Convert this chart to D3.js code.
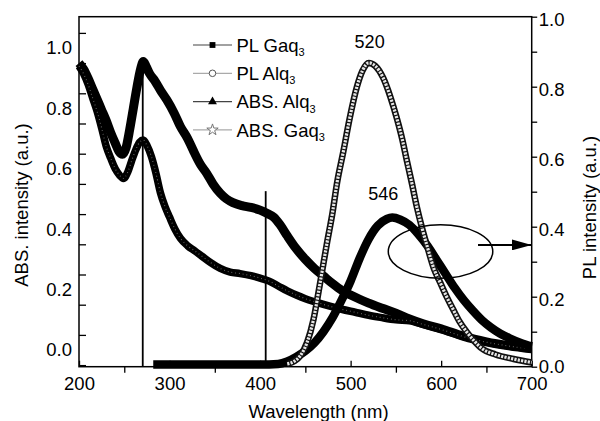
<!DOCTYPE html>
<html>
<head>
<meta charset="utf-8">
<script src="https://cdn.jsdelivr.net/npm/d3@7"></script>
<style>
  html, body { margin: 0; padding: 0; background: #fff; }
  svg { display: block; }
</style>
</head>
<body>
<div id="chart"></div>
<script>
// ABS / PL spectra of Alq3 and Gaq3 — D3
// Absorption is read on the left axis, photoluminescence on the right one.

// [wavelength (nm), ABS intensity (a.u.)]
const absAlq3 = [
  [200, 0.95], [205, 0.93], [210, 0.90], [215, 0.865], [220, 0.83], [225, 0.795],
  [230, 0.76], [235, 0.72], [240, 0.685], [244, 0.658], [248, 0.648], [252, 0.67],
  [256, 0.73], [260, 0.80], [264, 0.87], [268, 0.93], [271, 0.955], [274, 0.94],
  [278, 0.915], [284, 0.89], [290, 0.86], [297, 0.828], [305, 0.785], [312, 0.74],
  [320, 0.70], [326, 0.662], [334, 0.615], [341, 0.585], [348, 0.55], [356, 0.519],
  [363, 0.50], [370, 0.488], [380, 0.478], [390, 0.472], [400, 0.463], [408, 0.452],
  [415, 0.44], [422, 0.415], [430, 0.378], [440, 0.335], [450, 0.30], [460, 0.27],
  [470, 0.245], [480, 0.22], [490, 0.198], [500, 0.182], [510, 0.168], [520, 0.155],
  [535, 0.138], [550, 0.122], [565, 0.103], [580, 0.087], [600, 0.07], [625, 0.045],
  [650, 0.027], [675, 0.014], [700, 0.004]
];
const absGaq3 = [
  [200, 0.94], [205, 0.915], [210, 0.88], [215, 0.835], [220, 0.79], [225, 0.735],
  [230, 0.675], [235, 0.635], [240, 0.60], [245, 0.578], [249, 0.568], [254, 0.59],
  [258, 0.625], [263, 0.665], [267, 0.688], [271, 0.695], [275, 0.678], [280, 0.64],
  [285, 0.585], [290, 0.52], [295, 0.475], [300, 0.44], [306, 0.40], [312, 0.37],
  [320, 0.345], [328, 0.328], [336, 0.31], [345, 0.29], [356, 0.27], [367, 0.258],
  [378, 0.253], [390, 0.246], [400, 0.238], [410, 0.228], [420, 0.212], [430, 0.196],
  [440, 0.182], [450, 0.17], [460, 0.16], [477, 0.145], [490, 0.135], [505, 0.125],
  [520, 0.115], [533, 0.108], [550, 0.10], [565, 0.097], [580, 0.085], [600, 0.068],
  [625, 0.044], [650, 0.026], [675, 0.013], [700, 0.003]
];

// [wavelength (nm), PL intensity (a.u.)]
const plGaq3 = [
  [282, 0.006], [320, 0.006], [360, 0.006], [400, 0.006], [420, 0.008], [430, 0.015],
  [440, 0.028], [450, 0.045], [460, 0.068], [470, 0.10], [480, 0.14], [490, 0.19],
  [500, 0.245], [510, 0.31], [520, 0.365], [530, 0.403], [540, 0.422], [546, 0.426],
  [555, 0.42], [565, 0.405], [575, 0.378], [585, 0.345], [595, 0.305], [605, 0.265],
  [615, 0.225], [625, 0.19], [635, 0.16], [645, 0.133], [655, 0.112], [665, 0.095],
  [675, 0.082], [688, 0.068], [700, 0.058]
];
const plAlq3 = [
  [430, 0.008], [438, 0.016], [444, 0.03], [452, 0.07], [459, 0.135], [466, 0.235],
  [474, 0.355], [480, 0.44], [485, 0.525], [492, 0.615], [499, 0.71], [507, 0.80],
  [513, 0.845], [520, 0.868], [527, 0.86], [536, 0.825], [544, 0.77], [551, 0.71],
  [557, 0.65], [562, 0.59], [568, 0.52], [573, 0.458], [579, 0.395], [585, 0.34],
  [592, 0.28], [599, 0.24], [606, 0.2], [613, 0.165], [620, 0.13], [628, 0.1],
  [636, 0.075], [645, 0.052], [660, 0.035], [680, 0.022], [700, 0.012]
];

// Axis ticks
const xTicksMajor = [200, 300, 400, 500, 600, 700];
const xTicksMinor = [250, 350, 450, 550, 650];
const absTickLabels = [0, 0.2, 0.4, 0.6, 0.8, 1.0];
const absTickMarks = [-0.05, 0.05, 0.15, 0.25, 0.35, 0.45, 0.55, 0.65, 0.75, 0.85, 0.95, 1.05];
const plTickLabels = [0, 0.2, 0.4, 0.6, 0.8, 1.0];
const plTickMarks = [0, 0.1, 0.2, 0.3, 0.4, 0.5, 0.6, 0.7, 0.8, 0.9, 1.0];

// Annotations, in data units
const peakLabels = [{ text: '520', nm: 521, pl: 0.91 }, { text: '546', nm: 536, pl: 0.476 }];
const guideLines = [{ nm: 270.4, abs: 0.967 }, { nm: 406.2, abs: 0.526 }];
const ellipseNote = { nm: 599.3, pl: 0.329, rxNm: 57.7, ryPl: 0.0763 };
const arrowNote = { nm0: 640.7, nm1: 700, pl: 0.348 };

const legendNames = [['PL Gaq', '3'], ['PL Alq', '3'], ['ABS. Alq', '3'], ['ABS. Gaq', '3']];

const W = 600, H = 421;
const FONT = "'Liberation Sans', Arial, Helvetica, sans-serif";
const FS = 18.5;

const x = d3.scaleLinear().domain([200, 700]).range([79, 531.7]);
const yAbs = d3.scaleLinear().domain([0, 1]).range([350, 48]);
const yPl = d3.scaleLinear().domain([0, 1]).range([366.7, 16.7]);

const plotL = x(200), plotR = x(700), plotT = yPl(1), plotB = yPl(0);

const svg = d3.select('#chart')
  .append('svg')
  .attr('width', W)
  .attr('height', H)
  .attr('font-family', FONT);

svg.append('rect').attr('width', W).attr('height', H).attr('fill', '#fff');

function styleAxis(g) {
  g.select('.domain').remove();
  g.attr('font-family', FONT).attr('font-size', FS);
  g.selectAll('line').attr('stroke', '#000').attr('stroke-width', 1.3);
  g.selectAll('text').attr('fill', '#000');
}

// Bottom axis: major ticks inward, minor ticks outward
svg.append('g')
  .attr('transform', 'translate(0,' + plotB + ')')
  .call(d3.axisBottom(x).tickValues(xTicksMajor).tickSizeInner(-6).tickSizeOuter(0)
    .tickPadding(10).tickFormat(d3.format('d')))
  .call(styleAxis);
svg.append('g')
  .attr('transform', 'translate(0,' + plotB + ')')
  .call(d3.axisBottom(x).tickValues(xTicksMinor).tickSize(6).tickFormat(''))
  .call(styleAxis);

// Left axis: labels and tick marks sit half a step apart in the original
svg.append('g')
  .attr('transform', 'translate(' + plotL + ',0)')
  .call(d3.axisLeft(yAbs).tickValues(absTickLabels).tickSize(0).tickPadding(7)
    .tickFormat(d3.format('.1f')))
  .call(styleAxis);
svg.append('g')
  .attr('transform', 'translate(' + plotL + ',0)')
  .call(d3.axisRight(yAbs).tickValues(absTickMarks).tickSize(7).tickFormat(''))
  .call(styleAxis);

// Right axis (labels sit a little below their ticks; the bottom one is kept clear of "700")
svg.append('g')
  .attr('transform', 'translate(' + plotR + ',0)')
  .call(d3.axisRight(yPl).tickValues(plTickMarks).tickSize(5.5).tickFormat(''))
  .call(styleAxis);
svg.append('g')
  .attr('transform', 'translate(' + plotR + ',0)')
  .call(d3.axisRight(yPl).tickValues(plTickLabels).tickSize(0).tickPadding(7)
    .tickFormat(d3.format('.1f')))
  .call(styleAxis)
  .selectAll('text').attr('dy', function(d) { return d === 0 ? '0.3em' : '0.5em'; });

// Frame
svg.append('rect')
  .attr('x', plotL).attr('y', plotT)
  .attr('width', plotR - plotL).attr('height', plotB - plotT)
  .attr('fill', 'none').attr('stroke', '#000').attr('stroke-width', 1.5);

// Axis titles
svg.append('text')
  .attr('x', 318.5).attr('y', 418)
  .attr('text-anchor', 'middle').attr('font-size', FS)
  .text('Wavelength (nm)');
svg.append('text')
  .attr('transform', 'translate(28.2,205) rotate(-90)')
  .attr('text-anchor', 'middle').attr('font-size', FS)
  .text('ABS. intensity (a.u.)');
svg.append('text')
  .attr('transform', 'translate(596,207.5) rotate(-90)')
  .attr('text-anchor', 'middle').attr('font-size', FS)
  .text('PL intensity (a.u.)');

// Vertical guide lines at the absorption features
guideLines.forEach(function(g) {
  svg.append('line')
    .attr('x1', x(g.nm)).attr('x2', x(g.nm))
    .attr('y1', yAbs(g.abs)).attr('y2', plotB)
    .attr('stroke', '#000').attr('stroke-width', 1.8);
});

const lineAbs = d3.line().x(function(d) { return x(d[0]); }).y(function(d) { return yAbs(d[1]); })
  .curve(d3.curveMonotoneX);
const linePl = d3.line().x(function(d) { return x(d[0]); }).y(function(d) { return yPl(d[1]); })
  .curve(d3.curveMonotoneX);

const curveG = svg.append('g').attr('fill', 'none').attr('stroke-linejoin', 'round');

// ABS. Alq3 — filled triangles, reads as a solid band
curveG.append('path').attr('d', lineAbs(absAlq3))
  .attr('stroke', '#000').attr('stroke-width', 9);

// ABS. Gaq3 — open stars, dark band with faint light specks
curveG.append('path').attr('d', lineAbs(absGaq3))
  .attr('stroke', '#000').attr('stroke-width', 7.5);
curveG.append('path').attr('d', lineAbs(absGaq3))
  .attr('stroke', '#fff').attr('stroke-width', 1.1)
  .attr('stroke-dasharray', '0.8,3').attr('opacity', 0.45);

// PL Gaq3 — filled squares
curveG.append('path').attr('d', linePl(plGaq3))
  .attr('stroke', '#000').attr('stroke-width', 8.5);

// PL Alq3 — open circles, chain-like band
curveG.append('path').attr('d', linePl(plAlq3))
  .attr('stroke', '#111').attr('stroke-width', 6.5);
curveG.append('path').attr('d', linePl(plAlq3))
  .attr('stroke', '#e6e6e6').attr('stroke-width', 3.2)
  .attr('stroke-dasharray', '2.2,1.2');

// Peak labels
peakLabels.forEach(function(p) {
  svg.append('text')
    .attr('x', x(p.nm)).attr('y', yPl(p.pl))
    .attr('text-anchor', 'middle').attr('font-size', 18)
    .text(p.text);
});

// Ellipse + arrow pointing to the PL axis
svg.append('ellipse')
  .attr('cx', x(ellipseNote.nm)).attr('cy', yPl(ellipseNote.pl))
  .attr('rx', x(ellipseNote.nm + ellipseNote.rxNm) - x(ellipseNote.nm))
  .attr('ry', yPl(ellipseNote.pl - ellipseNote.ryPl) - yPl(ellipseNote.pl))
  .attr('fill', 'none').attr('stroke', '#000').attr('stroke-width', 1.5);

svg.append('defs').append('marker')
  .attr('id', 'arrow-head')
  .attr('viewBox', '0 0 20 11')
  .attr('refX', 20).attr('refY', 5.5)
  .attr('markerWidth', 20).attr('markerHeight', 11)
  .attr('markerUnits', 'userSpaceOnUse')
  .attr('orient', 'auto')
  .append('path').attr('d', 'M0,0 L20,5.5 L0,11 Z').attr('fill', '#000');

svg.append('line')
  .attr('x1', x(arrowNote.nm0)).attr('x2', x(arrowNote.nm1))
  .attr('y1', yPl(arrowNote.pl)).attr('y2', yPl(arrowNote.pl))
  .attr('stroke', '#000').attr('stroke-width', 2)
  .attr('marker-end', 'url(#arrow-head)');

// Legend
const legX = 193, legLen = 39, legY0 = 45, legDy = 28.3;
const legStyles = [
  { line: '#444', sym: d3.symbolSquare, size: 34, fill: '#000', stroke: 'none' },
  { line: '#aaa', sym: d3.symbolCircle, size: 34, fill: '#fff', stroke: '#555' },
  { line: '#444', sym: d3.symbolTriangle, size: 34, fill: '#000', stroke: 'none' },
  { line: '#aaa', sym: d3.symbolStar, size: 40, fill: '#fff', stroke: '#777' }
];
const legendG = svg.append('g');
legendNames.forEach(function(name, i) {
  const s = legStyles[i];
  const cy = legY0 + i * legDy;
  legendG.append('line')
    .attr('x1', legX).attr('x2', legX + legLen)
    .attr('y1', cy).attr('y2', cy)
    .attr('stroke', s.line).attr('stroke-width', 1.2);
  legendG.append('path')
    .attr('transform', 'translate(' + (legX + legLen / 2) + ',' + cy + ')')
    .attr('d', d3.symbol().type(s.sym).size(s.size)())
    .attr('fill', s.fill).attr('stroke', s.stroke).attr('stroke-width', 1);
  const t = legendG.append('text')
    .attr('x', legX + legLen + 4.5).attr('y', cy + 6.6)
    .attr('font-size', FS);
  t.append('tspan').text(name[0]);
  t.append('tspan').attr('font-size', 11).attr('dy', 4.5).text(name[1]);
});
</script>
</body>
</html>
